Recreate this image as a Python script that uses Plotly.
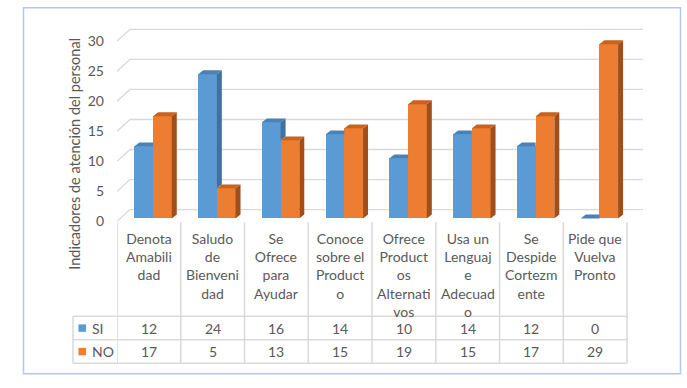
import plotly.graph_objects as go

# ---------------- data ----------------
categories = [
    "Denota<br>Amabili<br>dad",
    "Saludo<br>de<br>Bienveni<br>dad",
    "Se<br>Ofrece<br>para<br>Ayudar",
    "Conoce<br>sobre el<br>Product<br>o",
    "Ofrece<br>Product<br>os<br>Alternati<br>vos",
    "Usa un<br>Lenguaj<br>e<br>Adecuad<br>o",
    "Se<br>Despide<br>Cortezm<br>ente",
    "Pide que<br>Vuelva<br>Pronto",
]
si_values = [12, 24, 16, 14, 10, 14, 12, 0]
no_values = [17, 5, 13, 15, 19, 15, 17, 29]
series_names = ["SI", "NO"]
y_ticks = [0, 5, 10, 15, 20, 25, 30]
y_title = "Indicadores de atención del personal"

# ---------------- geometry / style ----------------
W, H = 687, 388
PLOT_L, PLOT_R = 117, 643
PLOT_T, PLOT_B = 20, 226
X_MIN, X_MAX = -0.5, 7.75
PX_PER_X = (PLOT_R - PLOT_L) / (X_MAX - X_MIN)
PX_PER_Y = 184 / 30
Y_MAX = (PLOT_B - PLOT_T) / PX_PER_Y
BAR_SHIFT = 3 / PX_PER_Y
DEPTH_X = 5 / PX_PER_X
DEPTH_Y = 4 / PX_PER_Y
BACK_X = 13 / PX_PER_X
BACK_Y = 12 / PX_PER_Y
BAR_W = 0.293
OFFSETS = [-0.227, 0.066]

FRONT = ["#5B9BD5", "#ED7D31"]
SIDE = ["#41719C", "#9E4F1C"]
TOP = ["#4C81B6", "#C8621F"]
TEXT = "#595959"
GRID = "#D9D9D9"
FONT = "Lato, Carlito, Calibri, sans-serif"


def px(x):
    return x / W


def py(y):
    return 1 - y / H


xs = list(range(len(categories)))
series = [si_values, no_values]

fig = go.Figure()

# front faces (real bars)
for s in range(2):
    fig.add_trace(go.Bar(
        x=xs, y=series[s], name=series_names[s], width=BAR_W, offset=OFFSETS[s],
        marker=dict(color=FRONT[s], line=dict(width=0)), yaxis="y2",
        showlegend=False, hoverinfo="x+y",
    ))


def poly_trace(pts_list, color):
    xx, yy = [], []
    for pts in pts_list:
        for p in pts:
            xx.append(p[0]); yy.append(p[1])
        xx.append(pts[0][0]); yy.append(pts[0][1])
        xx.append(None); yy.append(None)
    return go.Scatter(x=xx, y=yy, mode="lines", fill="toself", fillcolor=color,
                      line=dict(width=0, color=color), yaxis="y2",
                      showlegend=False, hoverinfo="skip")


# SI (blue) side + top faces, hidden where NO bar is in front
blue_side, blue_top = [], []
for i in xs:
    v, o = si_values[i], no_values[i]
    xl = i + OFFSETS[0]
    xr = xl + BAR_W
    if v > o:
        blue_side.append([(xr, o), (xr + DEPTH_X, o + DEPTH_Y),
                          (xr + DEPTH_X, v + DEPTH_Y), (xr, v)])
        blue_top.append([(xl, v), (xr, v), (xr + DEPTH_X, v + DEPTH_Y),
                         (xl + DEPTH_X, v + DEPTH_Y)])
    else:
        blue_top.append([(xl, v), (xr, v), (xr, v + DEPTH_Y),
                         (xl + DEPTH_X, v + DEPTH_Y)])
fig.add_trace(poly_trace(blue_side, SIDE[0]))
fig.add_trace(poly_trace(blue_top, TOP[0]))

# NO (orange) side + top faces
or_side, or_top = [], []
for i in xs:
    v = no_values[i]
    xl = i + OFFSETS[1]
    xr = xl + BAR_W
    or_side.append([(xr, 0), (xr + DEPTH_X, DEPTH_Y),
                    (xr + DEPTH_X, v + DEPTH_Y), (xr, v)])
    or_top.append([(xl, v), (xr, v), (xr + DEPTH_X, v + DEPTH_Y),
                   (xl + DEPTH_X, v + DEPTH_Y)])
fig.add_trace(poly_trace(or_side, SIDE[1]))
fig.add_trace(poly_trace(or_top, TOP[1]))

shapes = []
# back-wall gridlines with slanted left part
for v in y_ticks:
    path = "M {},{} L {},{} L {},{}".format(
        X_MIN, v, X_MIN + BACK_X, v + BACK_Y, X_MAX, v + BACK_Y)
    shapes.append(dict(type="path", path=path, xref="x", yref="y",
                       line=dict(color=GRID, width=1.3), layer="below"))

# data table grid
TBL_TOP, ROW1, ROW2, ROW3 = 227, 323, 347, 371
LEG_L = 73
tbl_right = PLOT_L + (len(categories)) * PX_PER_X
for k in range(len(categories) + 1):
    shapes.append(dict(type="line", xref="x", yref="paper",
                       x0=X_MIN + k, x1=X_MIN + k, y0=py(TBL_TOP), y1=py(ROW3),
                       line=dict(color=GRID, width=1.5)))
shapes.append(dict(type="line", xref="paper", yref="paper",
                   x0=px(LEG_L), x1=px(LEG_L), y0=py(ROW1), y1=py(ROW3),
                   line=dict(color=GRID, width=1.5)))
for yy in (ROW1, ROW2, ROW3):
    shapes.append(dict(type="line", xref="paper", yref="paper",
                       x0=px(LEG_L), x1=px(tbl_right), y0=py(yy), y1=py(yy),
                       line=dict(color=GRID, width=1.5)))
# legend keys
for s, yc in enumerate(((ROW1 + ROW2) / 2, (ROW2 + ROW3) / 2)):
    shapes.append(dict(type="rect", xref="paper", yref="paper",
                       x0=px(78.5), x1=px(86), y0=py(yc - 3.8), y1=py(yc + 3.8),
                       fillcolor=FRONT[s], line=dict(width=0)))
# outer border
shapes.append(dict(type="rect", xref="paper", yref="paper",
                   x0=px(23.5), x1=px(680.5), y0=py(381.5), y1=py(8),
                   line=dict(color="#B4C7E7", width=1.5)))

annotations = []
for i, lab in enumerate(categories):
    annotations.append(dict(x=i, xref="x", y=py(233), yref="paper", text=lab,
                            showarrow=False, xanchor="center", yanchor="top",
                            font=dict(size=14, color=TEXT, family=FONT)))
for s, yc in enumerate(((ROW1 + ROW2) / 2, (ROW2 + ROW3) / 2)):
    annotations.append(dict(x=px(89.5), xref="paper", y=py(yc), yref="paper",
                            text=series_names[s], showarrow=False,
                            xanchor="left", yanchor="middle",
                            font=dict(size=14, color=TEXT, family=FONT)))
    for i in xs:
        annotations.append(dict(x=i, xref="x", y=py(yc), yref="paper",
                                text=str(series[s][i]), showarrow=False,
                                xanchor="center", yanchor="middle",
                                font=dict(size=14, color=TEXT, family=FONT)))
annotations.append(dict(x=px(75), xref="paper", y=py(157), yref="paper",
                        text=y_title, textangle=-90, showarrow=False,
                        xanchor="center", yanchor="middle",
                        font=dict(size=14.5, color=TEXT, family=FONT)))

fig.update_layout(
    autosize=True,
    margin=dict(l=0, r=0, t=0, b=0),
    paper_bgcolor="white", plot_bgcolor="white",
    showlegend=False,
    xaxis=dict(range=[X_MIN, X_MAX], domain=[px(PLOT_L), px(PLOT_R)],
               showticklabels=False, showgrid=False, zeroline=False,
               showline=False, ticks="", fixedrange=True),
    yaxis=dict(range=[0, Y_MAX], domain=[py(PLOT_B), py(PLOT_T)],
               tickvals=y_ticks, showgrid=False, zeroline=False,
               showline=False, ticks="", ticklabelstandoff=12,
               tickfont=dict(size=14, color=TEXT, family=FONT), fixedrange=True),
    yaxis2=dict(range=[-BAR_SHIFT, Y_MAX - BAR_SHIFT], overlaying="y",
                visible=False, fixedrange=True),
    shapes=shapes, annotations=annotations,
    bargap=0, font=dict(family=FONT, color=TEXT),
)

fig.write_html(
    "out.html",
    default_width="100vw",
    default_height="100vh",
    config={"displayModeBar": False, "staticPlot": True},
    post_script=(
        "document.documentElement.style.margin='0px';"
        "document.body.style.margin='0px';"
        "document.body.style.overflow='hidden';"
        "var d=document.getElementById('{plot_id}');"
        "d.style.position='fixed';d.style.top='0px';d.style.left='0px';"
    ),
)
